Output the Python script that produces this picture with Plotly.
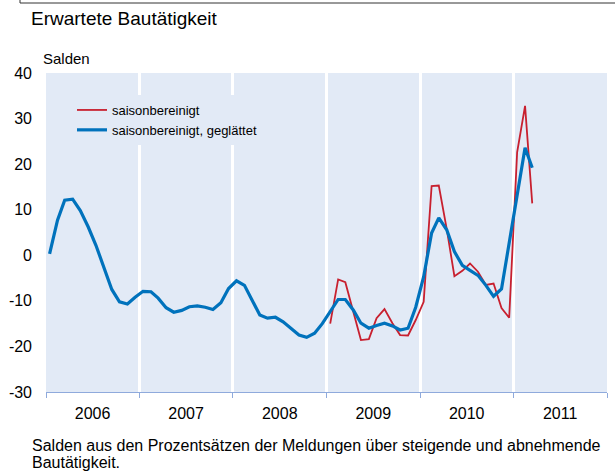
import pandas as pd
import plotly.graph_objects as go

# Monthly values, Jan 2006 - Mar 2011 (smoothed) and Jan 2009 - Mar 2011 (raw)
geglaettet = [
    0.3, 7.7, 12.1, 12.3, 9.8, 6.2, 2.2, -2.8, -7.5, -10.2, -10.7, -9.2,      # 2006
    -7.9, -8.0, -9.4, -11.5, -12.5, -12.1, -11.3, -11.1, -11.4, -11.9, -10.4, -7.3,  # 2007
    -5.6, -6.6, -9.8, -13.1, -13.8, -13.6, -14.6, -16.0, -17.5, -18.0, -17.1, -15.0,  # 2008
    -12.3, -9.7, -9.7, -12.0, -14.9, -16.0, -15.4, -14.9, -15.5, -16.4, -16.0, -11.4,  # 2009
    -4.7, 4.9, 8.2, 5.6, 0.8, -2.2, -3.3, -4.4, -6.6, -9.0, -7.4, 3.0,        # 2010
    13.6, 23.6, 19.2,                                                      # 2011
]
saisonbereinigt = [
    -15.0, -5.3, -5.9, -12.5, -18.6, -18.4, -13.8, -11.8, -14.9, -17.5, -17.6, -14.2,  # 2009
    -10.2, 15.2, 15.3, 5.8, -4.6, -3.4, -1.8, -3.6, -6.5, -6.2, -11.6, -13.7,        # 2010
    22.6, 32.8, 11.4,                                                            # 2011
]
blue_start = "2006-01-01"
red_start = "2009-01-01"
years = ["2006", "2007", "2008", "2009", "2010", "2011"]
y_ticks = [-30, -20, -10, 0, 10, 20, 30, 40]
y_ticktext = ["-30", "-20", "-10", "0", "10", "20", "30", "40"]

x_blue = pd.date_range(blue_start, periods=len(geglaettet), freq="MS") + pd.Timedelta(days=14)
x_red = pd.date_range(red_start, periods=len(saisonbereinigt), freq="MS") + pd.Timedelta(days=14)

BG = "#E2EAF6"
AXC = "#8FAADC"
FONT = "Arial, Liberation Sans, sans-serif"

fig = go.Figure()
fig.add_trace(go.Scatter(x=x_red, y=saisonbereinigt, mode="lines",
                         name="saisonbereinigt",
                         line=dict(color="#C8202F", width=1.8)))
fig.add_trace(go.Scatter(x=x_blue, y=geglaettet, mode="lines",
                         name="saisonbereinigt, geglättet",
                         line=dict(color="#0072BC", width=3.2)))

year_bounds = [f"{y}-01-01" for y in range(2006, 2013)]
year_mids = [f"{y}-07-02" for y in years]

fig.update_xaxes(
    range=["2006-01-01", "2012-01-01"], automargin=False,
    tickmode="array", tickvals=year_mids, ticktext=years,
    ticks="", showgrid=False, zeroline=False,
    showline=True, linecolor=AXC, linewidth=1,
    ticklabelstandoff=7,
    tickfont=dict(size=16, color="black"),
    minor=dict(tickmode="array", tickvals=year_bounds, ticks="outside",
               ticklen=5, tickcolor=AXC, tickwidth=1,
               showgrid=True, gridcolor="white", gridwidth=3),
)
fig.update_yaxes(
    range=[-30, 40], automargin=False, tickmode="array",
    tickvals=y_ticks, ticktext=y_ticktext,
    showgrid=False, zeroline=False, showline=False, ticks="",
    ticklabelstandoff=13,
    tickfont=dict(size=16, color="black"),
)

def px_x(px):
    return (px - 46) / 561

def px_y(py):
    return (392 - py) / 319

fig.update_layout(
    width=615, height=472,
    margin=dict(l=46, r=8, t=73, b=80, autoexpand=False),
    paper_bgcolor="white", plot_bgcolor=BG,
    font=dict(family=FONT, color="black"),
    showlegend=True,
    legend=dict(x=px_x(72), y=px_y(95), xanchor="left", yanchor="top",
                bgcolor=BG, borderwidth=0, font=dict(size=13, color="black")),
    annotations=[
        dict(text="Erwartete Bautätigkeit", xref="paper", yref="paper",
             x=px_x(29), y=px_y(18), xanchor="left", yanchor="middle",
             showarrow=False, font=dict(size=19)),
        dict(text="Salden", xref="paper", yref="paper",
             x=px_x(41), y=px_y(58), xanchor="left", yanchor="middle",
             showarrow=False, font=dict(size=15)),
        dict(text="Salden aus den Prozentsätzen der Meldungen über steigende und abnehmende",
             xref="paper", yref="paper", x=px_x(30), y=px_y(445),
             xanchor="left", yanchor="middle", showarrow=False, font=dict(size=16)),
        dict(text="Bautätigkeit.",
             xref="paper", yref="paper", x=px_x(30), y=px_y(462),
             xanchor="left", yanchor="middle", showarrow=False, font=dict(size=16)),
    ],
    shapes=[
        dict(type="line", xref="paper", yref="paper",
             x0=px_x(20), x1=px_x(620), y0=px_y(3), y1=px_y(3),
             line=dict(color="#333333", width=1)),
        dict(type="line", xref="paper", yref="paper",
             x0=px_x(20), x1=px_x(20), y0=px_y(-5), y1=px_y(3),
             line=dict(color="#333333", width=1)),
    ],
)

fig.write_html("out.html", config={"displayModeBar": False},
               post_script="document.body.style.margin='0px';")
